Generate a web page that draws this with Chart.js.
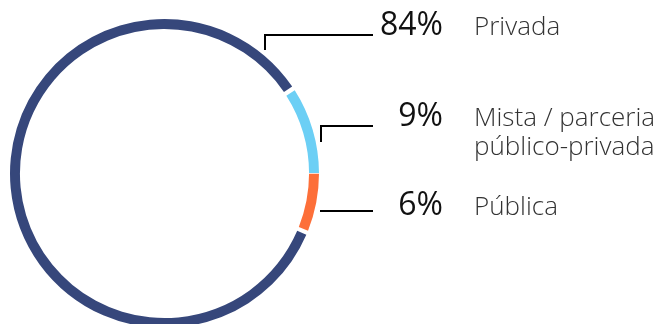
<!DOCTYPE html>
<html><head><meta charset="utf-8">
<script src="https://cdn.jsdelivr.net/npm/chart.js@4/dist/chart.umd.min.js"></script>
<style>
html,body{margin:0;padding:0;background:#fff;overflow:hidden;}
#wrap{position:relative;width:662px;height:332px;}
</style></head>
<body><div id="wrap"><canvas id="c"></canvas></div>
<script>
const categories = ["Privada", "Mista / parceria\npúblico-privada", "Pública"];
const values = [84, 9, 6];
const percentLabels = ["84%", "9%", "6%"];
const colors = ["#36477b", "#6ccff5", "#fd6f39"];

// label layout: [percent baseline y, leader line y, leader vertical x, vertical end y]
const labelLayout = [
  {py: 35, ly: 35, vx: 265, vy: 50},
  {py: 126, ly: 126, vx: 321, vy: 142},
  {py: 215, ly: 211, vx: null, vy: null}
];

const total = values.reduce((a,b)=>a+b,0);
const rotation = 90 + values[2]/total*360;

const labelPlugin = {
  id: 'labels',
  afterDraw(chart){
    const ctx = chart.ctx;
    ctx.save();
    labelLayout.forEach((L,i)=>{
      ctx.strokeStyle = '#000';
      ctx.lineWidth = 2;
      ctx.beginPath();
      const x0 = L.vx !== null ? L.vx : 320;
      if (L.vx !== null){
        ctx.moveTo(L.vx, L.vy);
        ctx.lineTo(L.vx, L.ly);
      } else {
        ctx.moveTo(x0, L.ly);
      }
      ctx.lineTo(373, L.ly);
      ctx.stroke();
      ctx.fillStyle = '#111';
      ctx.font = '400 32px "Open Sans"';
      ctx.textAlign = 'right';
      ctx.textBaseline = 'alphabetic';
      ctx.fillText(percentLabels[i], 443, L.py);
      ctx.fillStyle = '#333';
      ctx.font = '300 26px "Open Sans"';
      ctx.textAlign = 'left';
      const lines = categories[i].split('\n');
      lines.forEach((t,j)=>ctx.fillText(t, 474, L.py + j*29));
    });
    ctx.restore();
  }
};

new Chart(document.getElementById('c'), {
  type: 'doughnut',
  data: {
    labels: categories,
    datasets: [{
      data: values,
      backgroundColor: colors,
      borderWidth: 0,
      spacing: 3
    }]
  },
  options: {
    responsive: true,
    maintainAspectRatio: false,
    animation: false,
    rotation: rotation,
    cutout: '93.5%',
    layout: {padding: {left: 10, right: 343, top: 19, bottom: 4}},
    plugins: {legend: {display: false}, tooltip: {enabled: false}}
  },
  plugins: [labelPlugin]
});
</script>
</body></html>
